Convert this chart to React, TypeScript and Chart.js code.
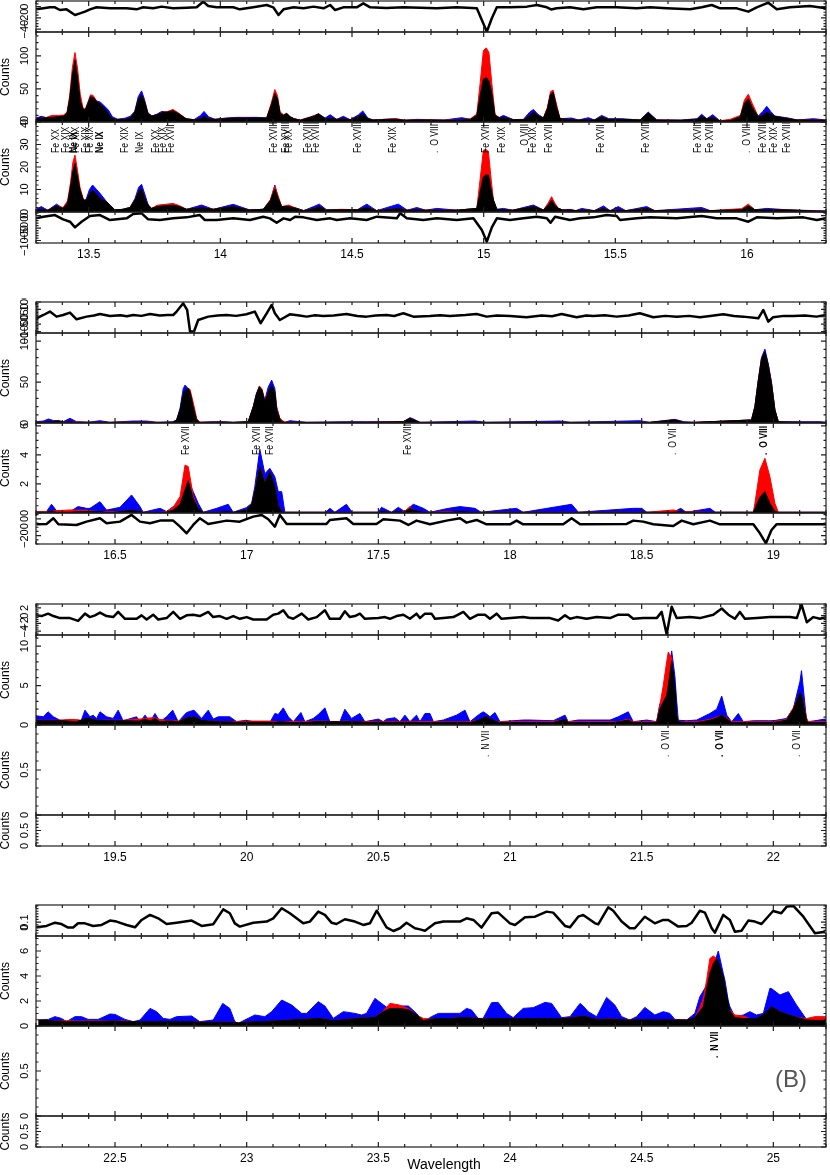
import React, { useEffect, useRef } from 'react';
import { Chart, registerables } from 'chart.js';

Chart.register(...registerables);

const FONT = '"Liberation Sans", Arial, Helvetica, sans-serif';
const C_BLACK = '#000000';
const C_RED = '#ff0000';
const C_BLUE = '#0000ff';

// ================= PANEL 1 (13.3 - 16.3 A) =================
const p1Range = [13.3, 16.3];
const p1XTicks = [13.5, 14, 14.5, 15, 15.5, 16];
// rows: [wavelength, black, red, blue]
const p1CountsA = [
  [13.300, 5, 5, 6], [13.320, 6, 6, 8.6], [13.340, 6.5, 7, 6.5], [13.360, 7, 10, 7], [13.385, 8, 10, 8],
  [13.405, 9, 10.5, 9], [13.418, 13, 15, 13], [13.428, 35, 40, 35], [13.438, 70, 82, 70], [13.448, 93, 105, 92],
  [13.458, 66, 80, 64], [13.468, 32, 42, 32], [13.478, 20, 22, 20], [13.487, 18, 19, 18], [13.497, 28, 30, 28],
  [13.507, 38, 41, 38], [13.517, 37, 40, 37], [13.530, 31, 32, 32], [13.545, 27, 27, 30], [13.560, 21, 20, 24],
  [13.575, 12, 12, 18], [13.590, 5, 5, 8], [13.610, 4, 4, 4], [13.640, 4, 4, 6], [13.658, 6, 6, 8.6],
  [13.675, 15, 15, 16], [13.688, 33, 33, 38], [13.701, 41, 41, 47], [13.712, 31, 31, 34], [13.725, 13, 13, 14],
  [13.740, 9, 9, 9], [13.760, 11, 11, 12], [13.777, 14, 14, 16], [13.800, 15, 16, 15], [13.820, 17, 19, 16],
  [13.840, 13, 14, 12], [13.870, 5, 5, 4], [13.900, 3.5, 3.5, 3.5], [13.925, 5, 5, 10], [13.938, 8.6, 8, 16],
  [13.955, 5, 5, 8], [13.980, 4, 4, 4], [14.020, 5, 5, 6], [14.060, 6, 6, 7], [14.100, 6, 6, 7],
  [14.140, 6, 5, 7], [14.176, 6, 6, 6], [14.193, 25, 28, 25], [14.207, 43, 49, 42], [14.217, 35, 40, 34],
  [14.227, 13, 15, 12], [14.240, 10, 11, 10], [14.252, 13, 13, 12], [14.265, 8, 8, 7], [14.280, 5, 5, 5],
  [14.303, 2.5, 3, 2.5], [14.341, 7, 7.6, 7], [14.357, 9, 10, 9], [14.373, 12.6, 12, 12], [14.398, 5, 5, 6],
  [14.417, 6, 6, 11], [14.442, 4, 4, 4], [14.467, 5, 5, 8.6], [14.493, 3.5, 3.5, 3.5], [14.525, 8, 8, 11],
  [14.541, 12.6, 12, 16.7], [14.560, 5, 5, 6], [14.580, 3, 3, 3], [14.664, 4, 5, 5], [14.700, 2.5, 3, 2.5],
  [14.746, 3, 3, 4], [14.850, 2.5, 3, 3], [14.917, 3, 3, 6.5], [14.950, 4, 5, 4], [14.974, 10, 12, 10],
  [14.987, 40, 60, 40], [14.999, 65, 108, 65], [15.010, 67, 112, 67], [15.020, 62, 105, 60], [15.031, 43, 58, 40],
  [15.043, 10, 12, 10], [15.060, 6, 6, 7], [15.075, 7, 7, 10], [15.113, 3.5, 3.5, 3.5], [15.151, 3.5, 3.5, 4],
  [15.175, 10, 10, 15], [15.189, 15, 15, 19], [15.205, 10, 10, 12], [15.227, 6, 6.5, 6], [15.242, 20, 22, 20],
  [15.254, 42, 46, 42], [15.264, 45, 48, 44], [15.277, 22, 26, 22], [15.290, 5, 5, 5], [15.334, 3.5, 3.5, 6],
  [15.360, 3, 3, 3], [15.398, 3.5, 3.5, 6.5], [15.420, 3, 3, 3], [15.448, 7.6, 7.6, 10], [15.475, 4, 4, 5],
  [15.524, 4, 4, 5], [15.594, 3, 3, 3], [15.625, 14, 13, 15], [15.657, 3, 3, 3], [15.750, 2.5, 2.5, 3],
  [15.810, 4, 4, 5], [15.828, 8.6, 8.6, 11.6], [15.847, 5, 5, 5], [15.870, 7, 7, 11], [15.898, 1.5, 2, 1.5],
  [15.936, 2, 4, 2], [15.975, 8, 10, 8], [15.990, 28, 33, 28], [16.005, 35, 42, 35], [16.020, 22, 28, 22],
  [16.043, 7.6, 8, 9], [16.060, 10, 10, 16], [16.075, 15, 15, 23.7], [16.090, 12, 12, 16], [16.106, 8.6, 8.6, 9],
  [16.157, 5, 5, 6], [16.190, 3, 3, 3], [16.252, 3, 3, 5], [16.300, 2.5, 2.5, 3],
];
const p1CountsB = [
  [13.300, 0.8, 0.8, 1.2], [13.320, 1.2, 1.2, 2.4], [13.345, 0.8, 0.8, 0.8], [13.378, 2.7, 2.7, 3.5], [13.403, 1.6, 2, 1.6],
  [13.420, 4, 5, 4], [13.431, 11, 13, 11], [13.440, 18, 22, 18], [13.448, 21.6, 25.3, 21], [13.457, 16, 19, 16],
  [13.467, 9.8, 11, 9.8], [13.480, 5.3, 5.5, 5.3], [13.490, 5, 5, 5.5], [13.503, 8, 8, 10], [13.515, 9.8, 9.8, 12],
  [13.530, 8, 8, 10], [13.543, 6, 6, 8.3], [13.568, 4.6, 4.6, 4.6], [13.600, 0.9, 0.9, 0.9], [13.630, 1.2, 1.2, 1.2],
  [13.657, 2, 2, 2], [13.676, 5.3, 5.3, 6], [13.690, 9, 9, 11], [13.701, 10.5, 10.5, 12.3], [13.713, 6, 6, 8],
  [13.726, 3.1, 3.1, 3.1], [13.739, 1.6, 1.6, 1.6], [13.760, 2.4, 3, 2.4], [13.790, 2.8, 3.4, 3], [13.821, 3, 3.8, 3],
  [13.845, 2.4, 2.8, 2], [13.872, 1.2, 1.2, 1.2], [13.929, 2, 2, 3.1], [13.973, 1.2, 1.2, 1.2], [14.049, 2.4, 2.4, 3.4],
  [14.112, 0.9, 0.9, 0.9], [14.163, 1.2, 1.2, 1.2], [14.190, 5, 5.5, 5], [14.207, 10.2, 11.6, 12], [14.220, 6, 7, 6],
  [14.233, 2.4, 2.4, 2.4], [14.259, 2.4, 3.1, 2.4], [14.290, 1.6, 1.6, 1.6], [14.316, 0.6, 0.6, 0.6], [14.354, 1.5, 1.5, 2.4],
  [14.376, 2.4, 2.4, 3.5], [14.404, 0.9, 0.9, 0.9], [14.460, 1, 1.2, 1], [14.520, 1, 1, 1], [14.556, 2, 2, 3.5],
  [14.594, 0.6, 0.6, 0.6], [14.676, 1.6, 1.6, 3.5], [14.710, 0.8, 0.8, 0.8], [14.746, 1, 1, 2], [14.780, 0.8, 0.8, 0.8],
  [14.822, 0.8, 0.8, 1.6], [14.900, 0.8, 0.8, 0.8], [14.974, 1.6, 1.6, 1.6], [14.987, 9, 15, 9], [14.999, 15.7, 27.5, 15],
  [15.009, 16.5, 27.8, 16], [15.018, 16.4, 26.8, 16], [15.028, 10, 15, 10], [15.037, 5.3, 5.3, 5.3], [15.050, 1.2, 1.2, 1.2],
  [15.075, 1, 1, 1.6], [15.110, 0.8, 0.8, 0.8], [15.189, 2.4, 2.4, 3.1], [15.227, 0.9, 0.9, 0.9], [15.245, 3, 4, 3],
  [15.258, 5.3, 6.8, 5.3], [15.270, 3, 4, 3], [15.284, 1.6, 1.6, 1.6], [15.300, 0.9, 0.9, 0.9], [15.328, 0.9, 0.9, 1.2],
  [15.350, 0.6, 0.6, 0.6], [15.372, 0.9, 0.9, 1.6], [15.420, 0.6, 0.6, 0.6], [15.455, 1.6, 1.6, 2.7], [15.480, 0.6, 0.6, 0.6],
  [15.511, 1, 1, 2.4], [15.540, 0.6, 0.6, 0.6], [15.619, 1.6, 1.6, 2.4], [15.650, 0.6, 0.6, 0.6], [15.828, 1, 1, 2],
  [15.860, 0.6, 0.6, 0.6], [15.980, 1, 1.5, 1], [16.005, 2.7, 3.5, 2.7], [16.030, 1, 1, 1], [16.075, 1, 1, 1.6],
  [16.163, 0.9, 0.9, 0.9], [16.265, 0.4, 0.4, 0.6], [16.300, 0.4, 0.4, 0.4],
];
const p1ResTop = [
  [13.300, -4.8], [13.328, -3], [13.353, -1.2], [13.372, -1.2], [13.391, -6], [13.416, -4.8], [13.448, -14.8],
  [13.467, -11.9], [13.486, -8.9], [13.505, -4.8], [13.530, -1.2], [13.581, -3], [13.644, -3], [13.682, -4.8],
  [13.707, -1.2], [13.745, -3], [13.777, 0], [13.821, -3], [13.872, -1.8], [13.910, -1.2], [13.935, 8.8],
  [13.954, 1.1], [13.986, -1.2], [14.049, -1.2], [14.074, -4.8], [14.125, -1.2], [14.176, 2.9], [14.201, -1.2],
  [14.221, -14.8], [14.240, -4.8], [14.278, -1.2], [14.316, -3], [14.354, 0], [14.392, -3], [14.417, 2.9],
  [14.436, -6], [14.467, -1.2], [14.518, -1.2], [14.543, 5.9], [14.569, -1.2], [14.630, -2.5], [14.695, -1.2],
  [14.760, -2], [14.822, -3], [14.898, -1.2], [14.974, -3], [14.993, -23.7], [15.012, -44.4], [15.031, -20.7],
  [15.050, -1.2], [15.100, -1.2], [15.164, 0], [15.202, 2.9], [15.240, -1.2], [15.256, -5], [15.277, -3],
  [15.328, -1.2], [15.379, -4.8], [15.429, -1.2], [15.505, -1.2], [15.581, -3], [15.632, -1.2], [15.695, -3],
  [15.784, -4.8], [15.828, -1.2], [15.866, 2.9], [15.898, -3], [15.961, -3], [16.005, -8.9], [16.037, -1.2],
  [16.081, 7.0], [16.113, -4.8], [16.163, -1.2], [16.239, 1.1], [16.300, -3],
];
const p1ResBot = [
  [13.300, -106], [13.328, -39], [13.372, 28], [13.403, -146], [13.429, -241], [13.448, -469], [13.473, -241],
  [13.505, -12], [13.543, 28], [13.581, -173], [13.644, -106], [13.669, 68], [13.701, 97], [13.726, -146],
  [13.771, -173], [13.821, -106], [13.872, -66], [13.922, 28], [13.941, -173], [13.986, -173], [14.049, -106],
  [14.112, -173], [14.163, -39], [14.188, -106], [14.214, -281], [14.240, -106], [14.265, -173], [14.284, -39],
  [14.316, -66], [14.366, -173], [14.417, -106], [14.442, -173], [14.493, -106], [14.556, -173], [14.594, -39],
  [14.670, -106], [14.683, 97], [14.708, -106], [14.771, -173], [14.822, -106], [14.898, -173], [14.961, -106],
  [14.993, -576], [15.012, -1047], [15.031, -469], [15.050, -106], [15.100, -173], [15.151, -106], [15.202, -39],
  [15.240, -106], [15.254, -281], [15.271, -39], [15.328, -173], [15.366, -106], [15.417, -66], [15.467, 28],
  [15.505, -12], [15.518, -173], [15.581, -106], [15.632, -66], [15.733, -106], [15.828, -12], [15.885, -106],
  [15.961, -106], [16.005, -241], [16.037, -66], [16.113, -106], [16.214, -66], [16.265, -173], [16.300, -106],
];
// [wavelength, ion, bold]
const p1Lines = [
  [13.376, 'Fe XX', 0], [13.414, 'Fe XIX', 0], [13.444, 'Ne IX', 1], [13.454, 'Fe XIX', 0], [13.490, 'Fe XIX', 0],
  [13.505, 'Fe XIX', 0], [13.543, 'Ne IX', 1], [13.638, 'Fe XIX', 0], [13.695, 'Ne IX', 0], [13.755, 'Fe XX', 0],
  [13.783, 'Fe XIX', 0], [13.815, 'Fe XVII', 0], [14.204, 'Fe XVIII', 0], [14.252, 'Fe XVIII', 0], [14.260, 'Fe XX', 0],
  [14.335, 'Fe XVIII', 0], [14.366, 'Fe XVIII', 0], [14.524, 'Fe XVIII', 0], [14.657, 'Fe XIX', 0], [14.816, '.  O VIII', 0],
  [15.009, 'Fe XVII', 0], [15.069, 'Fe XIX', 0], [15.157, '.  O VIII', 0], [15.189, 'Fe XIX', 0], [15.250, 'Fe XVII', 0],
  [15.448, 'Fe XVII', 0], [15.619, 'Fe XVIII', 0], [15.815, 'Fe XVIII', 0], [15.860, 'Fe XVIII', 0], [16.000, '.  O VIII', 0],
  [16.062, 'Fe XVIII', 0], [16.103, 'Fe XIX', 0], [16.151, 'Fe XVIII', 0],
];

// ================= PANEL 2 (16.2 - 19.2 A) =================
const p2Range = [16.2, 19.2];
const p2XTicks = [16.5, 17, 17.5, 18, 18.5, 19];
const p2CountsA = [
  [16.200, 0.8, 0.8, 1.6], [16.228, 1, 1, 2.4], [16.247, 1.6, 1.6, 4.9], [16.266, 1.6, 1.6, 3], [16.285, 2.8, 2.8, 2.8],
  [16.303, 1, 1, 1.6], [16.329, 1.6, 2, 5.7], [16.354, 0.8, 1.2, 1.6], [16.400, 0.8, 0.8, 1], [16.443, 1, 1, 2.8],
  [16.480, 0.8, 0.8, 0.8], [16.569, 1, 1, 2.4], [16.620, 1, 1, 2.4], [16.660, 0.8, 0.8, 0.8], [16.720, 0.8, 0.8, 1.6],
  [16.734, 3.7, 3.7, 3.7], [16.747, 15.9, 14, 18], [16.759, 35, 32, 42], [16.766, 40, 38, 46.3], [16.778, 42.3, 42.3, 42],
  [16.785, 38, 41, 36], [16.797, 19.9, 25, 18], [16.810, 3.7, 5.7, 3.7], [16.822, 0.8, 1, 0.8], [16.873, 1, 1, 1.6],
  [16.911, 1, 1, 1.6], [16.950, 0.8, 0.8, 0.8], [17.006, 1.6, 1.6, 1.6], [17.025, 19.9, 19.9, 19.9], [17.037, 35, 35, 36],
  [17.048, 44.3, 45.1, 44], [17.058, 40, 42, 40], [17.069, 26, 27, 28], [17.082, 38, 38, 44], [17.095, 46.3, 45, 52.4],
  [17.107, 38, 36, 42], [17.114, 15.9, 18, 20], [17.126, 5, 6, 5], [17.133, 1.6, 3.7, 1.6], [17.145, 0.8, 1, 0.8],
  [17.164, 1, 1, 2.8], [17.228, 0.8, 0.8, 0.8], [17.379, 0.8, 0.8, 1.6], [17.455, 0.8, 0.8, 1.6], [17.595, 1.6, 1.6, 1.6],
  [17.620, 5.7, 5.7, 6.5], [17.633, 4, 4, 5], [17.658, 0.8, 0.8, 0.8], [17.867, 0.8, 0.8, 2.4], [17.910, 0.8, 0.8, 0.8],
  [18.190, 0.8, 0.8, 2.4], [18.230, 0.8, 0.8, 0.8], [18.493, 0.8, 0.8, 2.8], [18.530, 0.8, 0.8, 0.8], [18.626, 3.7, 3.7, 4.5],
  [18.660, 0.8, 0.8, 1.6], [18.700, 0.8, 0.8, 0.8], [18.917, 3.7, 3.7, 3.7], [18.930, 20, 20, 20], [18.943, 52, 52, 53],
  [18.955, 78, 78, 80], [18.968, 87, 86, 90.2], [18.981, 70, 70, 72], [18.993, 48, 48, 50], [19.006, 15.9, 15.9, 16],
  [19.019, 1.6, 1.6, 1.6], [19.090, 0.8, 0.8, 1.6], [19.177, 0.8, 0.8, 1.6], [19.200, 0.8, 0.8, 0.8],
];
const p2CountsB = [
  [16.200, 0.05, 0.1, 0.05], [16.240, 0.05, 0.1, 0.1], [16.259, 0.16, 0.16, 0.6], [16.278, 0.05, 0.16, 0.16], [16.329, 0.05, 0.21, 0.1],
  [16.360, 0.1, 0.2, 0.44], [16.392, 0.1, 0.2, 0.32], [16.405, 0.1, 0.15, 0.32], [16.443, 0.1, 0.1, 0.78], [16.468, 0.05, 0.1, 0.2],
  [16.500, 0.05, 0.1, 0.32], [16.519, 0.1, 0.1, 0.39], [16.563, 0.2, 0.2, 1.24], [16.595, 0.1, 0.1, 0.44], [16.607, 0.05, 0.05, 0.05],
  [16.671, 0.05, 0.05, 0.32], [16.696, 0.05, 0.1, 0.1], [16.721, 0.2, 0.39, 0.44], [16.747, 0.6, 1.13, 0.6], [16.766, 1.6, 3.3, 1.8],
  [16.778, 2.23, 3.2, 2.2], [16.797, 1.0, 1.2, 1.47], [16.816, 0.3, 0.3, 0.67], [16.835, 0.05, 0.05, 0.05], [16.886, 0.05, 0.05, 0.32],
  [16.930, 0.1, 0.1, 0.6], [16.949, 0.05, 0.05, 0.05], [16.999, 0.2, 0.2, 0.37], [17.019, 0.6, 0.6, 0.67], [17.031, 1.5, 1.5, 1.82],
  [17.050, 3.2, 3.2, 4.39], [17.069, 2.05, 2.05, 2.7], [17.088, 2.85, 2.85, 3.08], [17.107, 1.82, 1.82, 2.5], [17.120, 0.5, 0.5, 1.47],
  [17.133, 0.1, 0.1, 1.47], [17.145, 0.05, 0.05, 0.05], [17.300, 0.05, 0.05, 0.05], [17.316, 0.05, 0.05, 0.32], [17.335, 0.05, 0.05, 0.05],
  [17.379, 0.05, 0.05, 0.6], [17.400, 0.05, 0.05, 0.05], [17.500, 0.05, 0.05, 0.05], [17.512, 0.1, 0.1, 0.39], [17.550, 0.05, 0.05, 0.05],
  [17.576, 0.1, 0.1, 0.39], [17.600, 0.05, 0.1, 0.1], [17.620, 0.32, 0.44, 0.4], [17.633, 0.2, 0.2, 0.6], [17.671, 0.05, 0.05, 0.32],
  [17.696, 0.05, 0.05, 0.05], [17.766, 0.05, 0.1, 0.32], [17.810, 0.1, 0.1, 0.44], [17.867, 0.05, 0.05, 0.32], [17.890, 0.05, 0.05, 0.05],
  [18.025, 0.05, 0.05, 0.32], [18.050, 0.05, 0.05, 0.05], [18.234, 0.05, 0.05, 0.6], [18.260, 0.05, 0.05, 0.05], [18.468, 0.05, 0.05, 0.32],
  [18.500, 0.05, 0.05, 0.32], [18.520, 0.05, 0.05, 0.05], [18.620, 0.05, 0.21, 0.05], [18.648, 0.1, 0.1, 0.32], [18.670, 0.05, 0.1, 0.05],
  [18.759, 0.05, 0.05, 0.32], [18.780, 0.05, 0.05, 0.05], [18.924, 0.05, 0.05, 0.05], [18.930, 0.3, 0.67, 0.3], [18.949, 1.1, 2.97, 1.1],
  [18.968, 1.47, 3.77, 1.47], [18.987, 0.67, 2.5, 0.67], [19.006, 0.1, 0.67, 0.1], [19.019, 0.05, 0.05, 0.05], [19.200, 0.05, 0.05, 0.05],
];
const p2ResTop = [
  [16.202, -10.4], [16.228, 12], [16.253, 35], [16.278, 0.9], [16.303, 12], [16.329, 28], [16.354, -17], [16.392, 0.9],
  [16.420, 8], [16.443, 19], [16.481, 5.4], [16.520, 10], [16.545, 3], [16.569, 12], [16.600, 6], [16.633, 19],
  [16.670, 8], [16.700, 12], [16.721, 12], [16.734, 35], [16.759, 91], [16.774, 46], [16.785, -100], [16.800, -100],
  [16.816, -21.7], [16.854, 0.9], [16.890, 8], [16.924, 12], [16.960, 6], [16.999, 16.7], [17.031, 35], [17.053, -44],
  [17.076, 23.5], [17.095, 80], [17.107, 23.5], [17.126, -21.7], [17.164, 16.7], [17.200, 8], [17.228, 0.9], [17.260, 10],
  [17.291, 5.4], [17.330, 8], [17.379, 19], [17.420, 5], [17.455, 0.9], [17.490, 8], [17.531, 12], [17.560, 5],
  [17.595, 23.5], [17.633, 0.9], [17.696, 5.4], [17.735, 10], [17.772, 5.4], [17.830, 12], [17.873, 19], [17.911, 0.9],
  [17.950, 8], [18.000, 5.4], [18.063, -3.6], [18.120, 8], [18.160, 3], [18.196, 19], [18.253, -3.6], [18.290, 8],
  [18.316, 5.4], [18.360, 10], [18.405, 0.9], [18.450, 8], [18.493, 23.5], [18.544, -3.6], [18.590, 6], [18.633, 0.9],
  [18.680, 6], [18.721, -3.6], [18.760, 5], [18.810, 16.7], [18.850, 5], [18.886, 0.9], [18.943, -10.4], [18.962, 46],
  [18.981, -33], [18.999, -3.6], [19.040, 6], [19.076, 5.4], [19.120, 8], [19.164, 0.9], [19.200, 12],
];
const p2ResBot = [
  [16.202, -65], [16.240, -61], [16.266, 7], [16.285, -65], [16.354, -73], [16.392, -33], [16.443, 7], [16.468, -53],
  [16.519, -33], [16.563, 47], [16.595, -33], [16.633, -53], [16.671, -21], [16.721, -21], [16.747, -93], [16.772, -172],
  [16.797, -73], [16.822, 7], [16.854, -61], [16.924, -21], [16.974, -33], [17.025, 27], [17.057, 47], [17.082, -5],
  [17.107, -93], [17.126, 47], [17.152, -61], [17.303, -61], [17.316, -13], [17.379, 7], [17.405, -61], [17.493, -61],
  [17.519, -5], [17.582, -21], [17.614, -73], [17.645, -21], [17.696, -65], [17.759, -21], [17.810, 7], [17.835, -45],
  [17.873, -13], [17.911, -65], [18.000, -65], [18.025, -21], [18.050, -65], [18.202, -65], [18.234, 7], [18.266, -65],
  [18.443, -61], [18.468, -21], [18.506, -33], [18.544, -65], [18.620, -85], [18.652, -21], [18.696, -65], [18.759, -21],
  [18.797, -65], [18.924, -65], [18.949, -172], [18.972, -292], [18.993, -133], [19.012, -65], [19.200, -65],
];
const p2Lines = [
  [16.772, 'Fe XVII', 0], [17.042, 'Fe XVII', 0], [17.091, 'Fe XVII', 0], [17.614, 'Fe XVIII', 0],
  [18.620, '.  O VII', 0], [18.964, '.  O VIII', 1],
];

// ================= PANEL 3 (19.2 - 22.2 A) =================
const p3Range = [19.2, 22.2];
const p3XTicks = [19.5, 20, 20.5, 21, 21.5, 22];
const p3CountsA = [
  [19.200, 0.54, 0.6, 1.17], [19.228, 0.54, 0.6, 1.04], [19.246, 0.54, 0.6, 1.67], [19.266, 0.54, 0.6, 1.04], [19.290, 0.54, 0.6, 0.63],
  [19.320, 0.5, 0.7, 0.5], [19.350, 0.4, 0.7, 0.42], [19.372, 0.6, 0.6, 0.6], [19.386, 0.83, 0.83, 1.88], [19.405, 0.83, 0.83, 1.04],
  [19.417, 0.7, 0.7, 1.25], [19.430, 0.6, 0.6, 0.83], [19.443, 0.6, 0.6, 1.67], [19.468, 0.54, 0.6, 1.04], [19.493, 0.54, 0.6, 0.83],
  [19.512, 0.54, 0.6, 1.88], [19.531, 0.54, 0.6, 0.54], [19.582, 0.5, 0.75, 1.04], [19.595, 0.5, 0.75, 0.42], [19.614, 0.75, 0.85, 1.25],
  [19.633, 0.5, 0.9, 0.42], [19.652, 0.83, 0.92, 1.46], [19.671, 0.4, 0.7, 0.42], [19.696, 0.5, 0.6, 1.04], [19.719, 0.5, 0.6, 1.88],
  [19.740, 0.4, 0.5, 0.42], [19.772, 0.9, 0.9, 1.58], [19.800, 1.04, 1.04, 1.88], [19.829, 0.6, 0.6, 0.83], [19.854, 0.5, 0.5, 1.88],
  [19.873, 0.5, 0.5, 0.75], [19.892, 0.4, 0.45, 1.04], [19.936, 0.4, 0.45, 1.04], [19.962, 0.33, 0.45, 0.42], [19.997, 0.35, 0.5, 0.6],
  [20.025, 0.35, 0.5, 0.42], [20.090, 0.35, 0.5, 0.42], [20.107, 0.35, 0.45, 1.46], [20.120, 0.4, 0.45, 1.33], [20.139, 0.4, 0.45, 2.17],
  [20.158, 0.35, 0.45, 1.04], [20.177, 0.3, 0.45, 0.42], [20.206, 0.35, 0.45, 1.58], [20.221, 0.3, 0.4, 0.42], [20.253, 0.4, 0.5, 0.83],
  [20.272, 0.45, 0.5, 1.33], [20.297, 0.45, 0.5, 2.17], [20.316, 0.4, 0.45, 0.42], [20.354, 0.4, 0.45, 0.42], [20.373, 0.45, 0.5, 2.0],
  [20.398, 0.4, 0.45, 0.83], [20.430, 0.4, 0.45, 1.46], [20.449, 0.35, 0.45, 0.42], [20.500, 0.35, 0.45, 0.75], [20.519, 0.35, 0.45, 0.42],
  [20.531, 0.35, 0.45, 0.75], [20.563, 0.35, 0.45, 0.92], [20.582, 0.35, 0.45, 0.42], [20.601, 0.35, 0.45, 1.25], [20.620, 0.35, 0.45, 0.42],
  [20.645, 0.35, 0.45, 1.25], [20.658, 0.3, 0.42, 0.42], [20.677, 0.3, 0.42, 1.46], [20.696, 0.3, 0.42, 1.46], [20.709, 0.3, 0.42, 0.42],
  [20.747, 0.35, 0.42, 0.63], [20.797, 0.35, 0.42, 1.25], [20.829, 0.35, 0.42, 1.88], [20.848, 0.3, 0.42, 0.42], [20.879, 0.6, 0.6, 1.25],
  [20.898, 0.9, 0.9, 1.67], [20.911, 1.04, 1.04, 1.4], [20.924, 0.8, 0.8, 1.04], [20.943, 0.5, 0.5, 1.58], [20.962, 0.3, 0.42, 0.42],
  [21.050, 0.3, 0.42, 0.63], [21.076, 0.3, 0.42, 0.63], [21.164, 0.3, 0.42, 0.54], [21.209, 0.75, 0.75, 1.25], [21.221, 0.3, 0.42, 0.42],
  [21.259, 0.3, 0.42, 0.63], [21.304, 0.3, 0.42, 0.63], [21.342, 0.3, 0.42, 0.63], [21.380, 0.3, 0.42, 0.63], [21.411, 0.4, 0.45, 1.04],
  [21.449, 0.63, 0.75, 1.67], [21.468, 0.3, 0.42, 0.42], [21.519, 0.3, 0.42, 0.63], [21.557, 0.3, 0.42, 0.42], [21.569, 2.0, 2.5, 2.7],
  [21.582, 2.92, 5.0, 3.0], [21.595, 3.75, 8.0, 3.75], [21.601, 5, 9.25, 6], [21.614, 8.13, 8.5, 9.38], [21.626, 5, 2.9, 6.25],
  [21.633, 1.25, 1.2, 3], [21.639, 0.42, 0.42, 0.6], [21.671, 0.3, 0.42, 0.54], [21.709, 0.3, 0.42, 0.63], [21.759, 0.6, 0.7, 1.46],
  [21.785, 0.9, 1.0, 2.0], [21.804, 1.25, 1.25, 3.67], [21.823, 0.8, 0.9, 1.25], [21.842, 0.3, 0.42, 0.42], [21.867, 0.3, 0.42, 1.46],
  [21.886, 0.3, 0.42, 0.42], [21.924, 0.3, 0.42, 0.54], [21.981, 0.3, 0.42, 0.54], [22.000, 0.3, 0.42, 0.54], [22.050, 0.6, 0.7, 0.83],
  [22.076, 2.0, 2.2, 2.1], [22.101, 4.08, 4.0, 5.5], [22.107, 3.8, 3.8, 6.88], [22.126, 0.6, 0.9, 0.63], [22.133, 0.3, 0.42, 0.42],
  [22.158, 0.3, 0.42, 0.54], [22.196, 0.3, 0.42, 0.75], [22.200, 0.3, 0.42, 0.42],
];
const p3ResTop = [
  [19.200, 0.07], [19.221, -0.11], [19.246, 0.51], [19.266, -0.11], [19.291, -0.64], [19.329, -0.64], [19.360, -1.36],
  [19.386, 0.51], [19.405, -0.38], [19.424, 0.07], [19.443, 0.78], [19.468, -0.11], [19.493, -0.38], [19.512, 0.96],
  [19.538, -0.82], [19.582, -0.82], [19.601, 0.07], [19.620, -1.0], [19.645, 0.24], [19.664, -1.0], [19.696, -0.64],
  [19.721, 0.96], [19.747, -0.82], [19.772, 0.07], [19.797, 0.24], [19.822, -0.11], [19.854, 0.96], [19.873, -0.38],
  [19.898, -0.11], [19.924, -0.82], [19.949, -0.11], [19.974, -0.82], [20.000, -0.38], [20.025, -1.0], [20.076, -1.0],
  [20.101, 0.24], [20.120, 0.51], [20.139, 1.4], [20.158, -0.38], [20.177, -0.82], [20.209, 0.51], [20.234, -1.0],
  [20.266, -0.38], [20.297, 1.4], [20.316, -0.82], [20.354, -0.82], [20.373, 1.13], [20.392, -0.38], [20.411, -0.11],
  [20.430, 0.51], [20.449, -0.82], [20.500, -0.64], [20.525, -0.38], [20.544, -0.82], [20.569, -0.11], [20.595, 0.24],
  [20.620, -0.82], [20.645, 0.51], [20.658, -0.64], [20.677, 0.51], [20.702, 0.51], [20.715, -0.82], [20.747, -0.64],
  [20.785, -0.38], [20.823, 0.96], [20.848, -0.82], [20.879, 0.24], [20.905, 0.24], [20.924, -0.82], [20.949, 0.51],
  [20.968, -0.82], [21.050, -0.38], [21.076, -0.64], [21.152, -0.64], [21.183, -1.27], [21.209, 0.07], [21.228, -0.82],
  [21.253, -0.38], [21.291, -0.82], [21.329, -0.38], [21.380, -0.64], [21.411, 0.24], [21.449, 0.24], [21.468, -0.82],
  [21.506, -0.64], [21.557, -0.64], [21.576, 0.96], [21.595, -4.82], [21.614, 2.29], [21.633, -0.64], [21.683, -0.38],
  [21.721, -0.64], [21.772, 0.24], [21.804, 1.84], [21.829, 0.24], [21.854, -0.82], [21.873, 0.96], [21.892, -0.82],
  [21.937, -0.64], [21.987, -0.38], [22.025, -0.38], [22.063, -0.38], [22.089, -0.64], [22.107, 2.91], [22.127, -1.71],
  [22.152, -0.38], [22.177, -0.82], [22.200, -0.38],
];
const p3Lines = [
  [20.909, '.  N VII', 0], [21.595, '.  O VII', 0], [21.800, '.  O VII', 1], [22.091, '.  O VII', 0],
];

// ================= PANEL 4 (22.2 - 25.2 A) =================
const p4Range = [22.2, 25.2];
const p4XTicks = [22.5, 23, 23.5, 24, 24.5, 25];
const p4CountsA = [
  [22.209, 0.48, 0.48, 0.48], [22.247, 0.45, 0.45, 0.53], [22.272, 0.4, 0.4, 0.75], [22.297, 0.4, 0.45, 0.61], [22.316, 0.35, 0.43, 0.35],
  [22.348, 0.35, 0.4, 0.75], [22.373, 0.35, 0.4, 0.75], [22.398, 0.35, 0.4, 0.53], [22.436, 0.35, 0.4, 0.53], [22.481, 0.4, 0.4, 0.96],
  [22.500, 0.4, 0.4, 0.93], [22.538, 0.35, 0.4, 0.53], [22.569, 0.35, 0.35, 0.35], [22.595, 0.35, 0.35, 0.48], [22.633, 0.35, 0.35, 1.41],
  [22.658, 0.35, 0.35, 1.15], [22.683, 0.35, 0.35, 0.61], [22.709, 0.35, 0.35, 0.53], [22.734, 0.35, 0.35, 0.75], [22.791, 0.35, 0.35, 0.8],
  [22.822, 0.3, 0.3, 0.35], [22.873, 0.3, 0.3, 0.48], [22.909, 0.3, 0.3, 1.81], [22.936, 0.3, 0.3, 1.41], [22.955, 0.3, 0.3, 0.35],
  [22.968, 0.25, 0.25, 0.21], [22.993, 0.3, 0.3, 0.48], [23.031, 0.35, 0.35, 0.88], [23.069, 0.35, 0.35, 0.75], [23.095, 0.4, 0.4, 1.15],
  [23.133, 0.43, 0.43, 2.08], [23.171, 0.5, 0.5, 1.68], [23.209, 0.53, 0.53, 1.01], [23.228, 0.55, 0.55, 1.01], [23.272, 0.6, 0.6, 1.95],
  [23.297, 0.55, 0.55, 1.6], [23.329, 0.43, 0.43, 0.61], [23.367, 0.5, 0.5, 1.15], [23.411, 0.6, 0.6, 1.01], [23.436, 0.65, 0.65, 0.88],
  [23.455, 0.65, 0.65, 1.01], [23.487, 0.7, 0.7, 2.21], [23.519, 1.15, 1.2, 1.7], [23.544, 1.4, 1.81, 1.3], [23.576, 1.41, 1.7, 1.6],
  [23.614, 1.3, 1.4, 1.6], [23.645, 0.9, 0.88, 1.01], [23.671, 0.43, 0.6, 0.35], [23.702, 0.55, 0.55, 0.75], [23.728, 0.6, 0.6, 1.01],
  [23.772, 0.6, 0.6, 1.01], [23.810, 0.67, 0.67, 1.01], [23.835, 0.67, 0.67, 1.41], [23.854, 0.65, 0.65, 1.28], [23.879, 0.6, 0.6, 0.61],
  [23.898, 0.55, 0.55, 0.61], [23.930, 0.6, 0.6, 1.87], [23.955, 0.6, 0.6, 1.89], [23.987, 0.6, 0.6, 1.01], [24.012, 0.6, 0.6, 0.67],
  [24.050, 0.6, 0.6, 1.41], [24.088, 0.6, 0.6, 1.47], [24.133, 0.6, 0.6, 1.89], [24.158, 0.6, 0.6, 1.81], [24.196, 0.6, 0.6, 0.67],
  [24.228, 0.65, 0.65, 0.75], [24.266, 0.75, 0.75, 1.81], [24.278, 0.8, 0.8, 1.6], [24.297, 0.7, 0.7, 1.15], [24.329, 0.53, 0.53, 0.75],
  [24.367, 0.55, 0.55, 2.29], [24.398, 0.55, 0.55, 1.68], [24.424, 0.5, 0.5, 0.75], [24.455, 0.48, 0.5, 0.48], [24.481, 0.5, 0.5, 0.75],
  [24.512, 0.5, 0.5, 1.49], [24.550, 0.5, 0.5, 0.88], [24.582, 0.5, 0.5, 1.15], [24.607, 0.5, 0.5, 1.01], [24.626, 0.48, 0.48, 0.53],
  [24.671, 0.48, 0.48, 0.48], [24.702, 0.67, 0.67, 1.01], [24.721, 1.2, 1.5, 2.35], [24.734, 1.55, 2.2, 2.8], [24.747, 3.0, 3.7, 3.28],
  [24.759, 4.21, 5.4, 4.0], [24.772, 5.0, 5.6, 5.01], [24.785, 5.41, 5.4, 5.6], [24.791, 5.2, 5.0, 6.0], [24.810, 3.95, 3.8, 4.2],
  [24.816, 3.2, 3.0, 3.68], [24.829, 1.81, 1.5, 2.0], [24.835, 1.2, 1.28, 1.55], [24.854, 0.67, 0.88, 0.75], [24.886, 0.6, 0.8, 0.88],
  [24.911, 0.6, 0.6, 1.15], [24.936, 0.6, 0.6, 0.88], [24.962, 0.9, 0.9, 1.01], [24.987, 1.4, 1.4, 3.01], [24.993, 1.55, 1.55, 3.0],
  [25.025, 1.15, 1.15, 2.48], [25.057, 0.9, 0.9, 2.75], [25.088, 0.7, 0.7, 1.68], [25.126, 0.48, 0.6, 0.53], [25.158, 0.45, 0.75, 0.48],
  [25.196, 0.45, 0.75, 0.53], [25.200, 0.45, 0.75, 0.5],
];
const p4ResTop = [
  [22.202, 0.005], [22.240, 0.03], [22.272, 0.09], [22.297, 0.065], [22.322, 0], [22.341, 0], [22.360, 0.078],
  [22.386, 0.078], [22.417, 0.03], [22.449, 0.048], [22.481, 0.128], [22.506, 0.11], [22.544, 0.048], [22.576, 0.005],
  [22.601, 0.14], [22.633, 0.233], [22.664, 0.17], [22.696, 0.065], [22.734, 0.09], [22.791, 0.128], [22.829, 0.03],
  [22.873, 0.06], [22.911, 0.335], [22.936, 0.263], [22.955, 0.078], [22.974, 0.018], [23.025, 0.09], [23.076, 0.11],
  [23.101, 0.17], [23.133, 0.355], [23.164, 0.263], [23.215, 0.078], [23.240, 0.11], [23.272, 0.293], [23.297, 0.233],
  [23.322, 0.09], [23.341, 0.065], [23.373, 0.153], [23.411, 0.11], [23.443, 0.048], [23.468, 0.078], [23.494, 0.31],
  [23.531, 0.005], [23.557, -0.063], [23.582, -0.013], [23.607, 0.09], [23.639, -0.013], [23.658, -0.033], [23.677, -0.058],
  [23.715, 0.078], [23.747, 0.11], [23.810, 0.11], [23.835, 0.17], [23.861, 0.14], [23.892, 0], [23.930, 0.263],
  [23.955, 0.275], [24.000, 0.078], [24.019, 0.048], [24.057, 0.188], [24.095, 0.2], [24.139, 0.293], [24.164, 0.275],
  [24.209, 0.03], [24.228, 0.005], [24.259, 0.2], [24.278, 0.233], [24.323, 0.078], [24.335, 0.06], [24.373, 0.373],
  [24.392, 0.31], [24.424, 0.11], [24.455, -0.013], [24.474, -0.013], [24.512, 0.2], [24.550, 0.078], [24.582, 0.14],
  [24.601, 0.14], [24.639, 0.018], [24.671, 0.03], [24.690, 0.09], [24.721, 0.31], [24.740, 0.275], [24.766, -0.013],
  [24.778, -0.093], [24.810, 0.233], [24.835, 0.14], [24.854, -0.075], [24.879, -0.058], [24.905, 0.128], [24.930, 0.11],
  [24.955, 0.065], [24.999, 0.305], [25.030, 0.263], [25.051, 0.385], [25.076, 0.398], [25.114, 0.2], [25.158, -0.105],
  [25.196, -0.075],
];
const p4Lines = [[24.778, '.  N VII', 1]];

// ================= layout of the four panels =================
const PANELS = [
  {
    top: 1, range: p1Range, xTicks: p1XTicks, countsA: p1CountsA, countsB: p1CountsB,
    resTop: p1ResTop, resBot: p1ResBot, lines: p1Lines, labelBase: 31, last: false,
    subs: [
      { id: 'yR1', counts: false, weight: 31, min: -45, max: 10, majors: [0, -20, -40], minor: 5 },
      { id: 'yC1', counts: true, weight: 90, min: 0, max: 136, majors: [0, 50, 100], minor: 10 },
      { id: 'yC2', counts: true, weight: 90, min: 0, max: 40, majors: [0, 10, 20, 30, 40], minor: 2 },
      { id: 'yR2', counts: false, weight: 31, min: -1100, max: 150, majors: [0, -500, -1000], minor: 100 },
    ],
  },
  {
    top: 302, range: p2Range, xTicks: p2XTicks, countsA: p2CountsA, countsB: p2CountsB,
    resTop: p2ResTop, resBot: p2ResBot, lines: p2Lines, labelBase: 32, last: false,
    subs: [
      { id: 'yR1', counts: false, weight: 31, min: -110, max: 100, majors: [-100, -50, 0, 50, 100], minor: 10 },
      { id: 'yC1', counts: true, weight: 90, min: 0, max: 110, majors: [0, 50, 100], minor: 10 },
      { id: 'yC2', counts: true, weight: 90, min: 0, max: 6.2, majors: [0, 2, 4, 6], minor: 0.5 },
      { id: 'yR2', counts: false, weight: 31, min: -300, max: 70, majors: [0, -200], minor: 50 },
    ],
  },
  {
    top: 604, range: p3Range, xTicks: p3XTicks, countsA: p3CountsA, countsB: null,
    resTop: p3ResTop, resBot: null, lines: p3Lines, labelBase: 32, last: false,
    subs: [
      { id: 'yR1', counts: false, weight: 31, min: -5, max: 3, majors: [-4, -2, 0, 2], minor: 0.5 },
      { id: 'yC1', counts: true, weight: 90, min: 0, max: 11.4, majors: [0, 5, 10], minor: 1 },
      { id: 'yC2', counts: true, weight: 90, min: 0, max: 1, majors: [0, 0.5], minor: 0.1 },
      { id: 'yC3', counts: true, weight: 31, min: 0, max: 1, majors: [0, 0.5], minor: 0.1 },
    ],
  },
  {
    top: 905, range: p4Range, xTicks: p4XTicks, countsA: p4CountsA, countsB: null,
    resTop: p4ResTop, resBot: null, lines: p4Lines, labelBase: 32, last: true,
    subs: [
      { id: 'yR1', counts: false, weight: 31, min: -0.155, max: 0.415, majors: [0, 0.1], minor: 0.05 },
      { id: 'yC1', counts: true, weight: 90, min: 0, max: 7.2, majors: [0, 2, 4, 6], minor: 0.5 },
      { id: 'yC2', counts: true, weight: 90, min: 0, max: 1, majors: [0, 0.5], minor: 0.1 },
      { id: 'yC3', counts: true, weight: 31, min: 0, max: 1, majors: [0, 0.5], minor: 0.1 },
    ],
  },
];

const PAD_TOP = 4;
const X_AXIS_H = 30;
const PLOT_H = 242;
const CANVAS_H = PAD_TOP + PLOT_H + X_AXIS_H;

function fmt(v: number) {
  return v < 0 ? '\u2212' + String(-v) : String(v);
}

function fillSeries(rows: number[][], col: number, axis: string, color: string, order: number) {
  return {
    data: rows.map((r) => ({ x: r[0], y: r[col] })),
    yAxisID: axis, xAxisID: 'x',
    borderColor: color, backgroundColor: color, borderWidth: 1,
    fill: 'origin', pointRadius: 0, pointHoverRadius: 0, tension: 0, order,
  };
}

function lineSeries(pairs: number[][], axis: string) {
  return {
    data: pairs.map((p) => ({ x: p[0], y: p[1] })),
    yAxisID: axis, xAxisID: 'x',
    borderColor: C_BLACK, backgroundColor: C_BLACK, borderWidth: 2.5,
    borderJoinStyle: 'round', fill: false, pointRadius: 0, pointHoverRadius: 0, tension: 0, order: 0,
  };
}

function makeDecor(cfg: any) {
  return {
    id: 'decor',
    afterDraw(chart: any) {
      const ctx = chart.ctx;
      const xs = chart.scales.x;
      const { left, right } = chart.chartArea;
      ctx.save();
      ctx.strokeStyle = '#1e1e1e';
      ctx.lineWidth = 1.2;
      const k0 = Math.ceil(cfg.range[0] * 10 - 1e-6);
      const k1 = Math.floor(cfg.range[1] * 10 + 1e-6);
      for (const sub of cfg.subs) {
        const s = chart.scales[sub.id];
        const t = s.top;
        const b = s.bottom;
        ctx.strokeRect(left, t, right - left, b - t);
        ctx.beginPath();
        for (let k = k0; k <= k1; k++) {
          const px = xs.getPixelForValue(k / 10);
          const len = k % 5 === 0 ? 5 : 3;
          ctx.moveTo(px, t); ctx.lineTo(px, t + len);
          ctx.moveTo(px, b); ctx.lineTo(px, b - len);
        }
        const m0 = Math.ceil(sub.min / sub.minor - 1e-6);
        const m1 = Math.floor(sub.max / sub.minor + 1e-6);
        for (let m = m0; m <= m1; m++) {
          const v = m * sub.minor;
          const py = s.getPixelForValue(v);
          const major = sub.majors.some((q: number) => Math.abs(q - v) < sub.minor * 0.01);
          const len = major ? 5 : 2.5;
          ctx.moveTo(left, py); ctx.lineTo(left + len, py);
          ctx.moveTo(right, py); ctx.lineTo(right - len, py);
        }
        ctx.stroke();
        ctx.fillStyle = '#000';
        ctx.font = `11px ${FONT}`;
        ctx.textAlign = 'center';
        ctx.textBaseline = 'middle';
        for (const v of sub.majors) {
          const py = s.getPixelForValue(v);
          ctx.save();
          ctx.translate(left - 11, py);
          ctx.rotate(-Math.PI / 2);
          ctx.fillText(fmt(v), 0, 0);
          ctx.restore();
        }
      }
      // line identifications, read upwards from a common base line
      const yBase = chart.scales.yC2.top + cfg.labelBase;
      ctx.fillStyle = '#000';
      ctx.textAlign = 'left';
      ctx.textBaseline = 'middle';
      for (const [w, name, bold] of cfg.lines) {
        const px = xs.getPixelForValue(w);
        ctx.save();
        ctx.translate(px, yBase);
        ctx.rotate(-Math.PI / 2);
        ctx.scale(0.86, 1);
        ctx.font = `${bold ? 'bold ' : ''}10px ${FONT}`;
        ctx.fillText(name, 0, 0);
        ctx.restore();
      }
      if (cfg.last) {
        ctx.textAlign = 'center';
        ctx.textBaseline = 'middle';
        ctx.fillStyle = '#000';
        ctx.font = `14px ${FONT}`;
        ctx.fillText('Wavelength', (left + right) / 2 + 13, chart.chartArea.bottom + 18);
        ctx.fillStyle = '#555';
        ctx.font = `24px ${FONT}`;
        ctx.fillText('(B)', right - 35, chart.scales.yC2.bottom - 36);
      }
      ctx.restore();
    },
  };
}

function Panel({ cfg }: { cfg: any }) {
  const ref = useRef<HTMLCanvasElement>(null);
  useEffect(() => {
    if (!ref.current) return;
    const scales: any = {
      x: {
        type: 'linear', position: 'bottom', min: cfg.range[0], max: cfg.range[1],
        grid: { display: false, drawTicks: false, tickLength: 0 }, border: { display: false },
        afterBuildTicks: (s: any) => { s.ticks = cfg.xTicks.map((v: number) => ({ value: v })); },
        afterFit: (s: any) => { s.height = X_AXIS_H; },
        ticks: {
          color: '#000', font: { family: FONT, size: 12 }, padding: 4,
          maxRotation: 0, minRotation: 0, autoSkip: false,
          callback: (v: any) => String(v),
        },
      },
    };
    const n = cfg.subs.length;
    cfg.subs.forEach((sub: any, i: number) => {
      scales[sub.id] = {
        type: 'linear', axis: 'y', position: 'left', stack: 'panel', stackWeight: sub.weight,
        weight: n - i, min: sub.min, max: sub.max,
        grid: { display: false, drawTicks: false }, border: { display: false }, ticks: { display: false },
        title: {
          display: sub.counts, text: 'Counts', color: '#000', padding: 0,
          font: { family: FONT, size: 12, lineHeight: 1 },
        },
        afterFit: (s: any) => { s.width = 36; },
      };
    });
    const datasets: any[] = [
      lineSeries(cfg.resTop, 'yR1'),
      fillSeries(cfg.countsA, 1, 'yC1', C_BLACK, 1),
      fillSeries(cfg.countsA, 2, 'yC1', C_RED, 2),
      fillSeries(cfg.countsA, 3, 'yC1', C_BLUE, 3),
    ];
    if (cfg.countsB) {
      datasets.push(fillSeries(cfg.countsB, 1, 'yC2', C_BLACK, 1));
      datasets.push(fillSeries(cfg.countsB, 2, 'yC2', C_RED, 2));
      datasets.push(fillSeries(cfg.countsB, 3, 'yC2', C_BLUE, 3));
    }
    if (cfg.resBot) datasets.push(lineSeries(cfg.resBot, 'yR2'));
    const chart = new Chart(ref.current, {
      type: 'line',
      data: { datasets },
      options: {
        responsive: false,
        animation: false,
        devicePixelRatio: 1,
        layout: { padding: { top: PAD_TOP, right: 4, left: 0, bottom: 0 } },
        plugins: { legend: { display: false }, tooltip: { enabled: false } },
        events: [],
        scales,
      } as any,
      plugins: [makeDecor(cfg)],
    } as any);
    return () => chart.destroy();
  }, [cfg]);
  return (
    <canvas
      ref={ref}
      width={830}
      height={CANVAS_H}
      style={{ position: 'absolute', left: 0, top: cfg.top - PAD_TOP, width: 830, height: CANVAS_H }}
    />
  );
}

export default function App() {
  return (
    <div style={{ position: 'absolute', left: 0, top: 0, width: 830, height: 1175, background: '#fff', overflow: 'hidden' }}>
      {PANELS.map((p, i) => (
        <Panel key={i} cfg={p} />
      ))}
    </div>
  );
}
